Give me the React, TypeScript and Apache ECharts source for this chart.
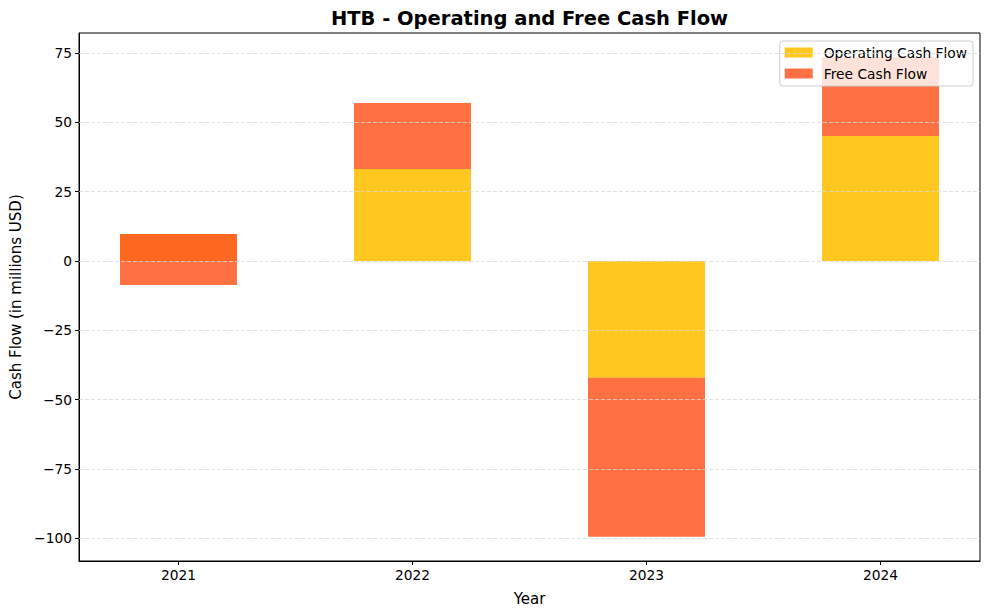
import { useEffect, useRef } from "react";
import * as echarts from "echarts";

const years = ["2021", "2022", "2023", "2024"];
const operatingCashFlow = [9.7, 33.2, -42.1, 45.1];
const freeCashFlow = [-18.4, 23.8, -57.4, 28.4];
const yTicks = [-100, -75, -50, -25, 0, 25, 50, 75];
const xTicks = [0, 1, 2, 3];

const FONT = "DejaVu Sans";

export default function App() {
  const chartDivRef = useRef<HTMLDivElement>(null);

  useEffect(() => {
    document.body.style.margin = "0";
    const el = chartDivRef.current;
    if (!el) return;
    const chart = echarts.init(el, null, { renderer: "svg" });

    const minus = (v: number) => String(v).replace("-", "\u2212");

    // value first, position second: so the stack runs on the y values
    const toPoints = (vals: number[]) => vals.map((v, i) => [v, i]);

    const option: echarts.EChartsOption = {
      animation: false,
      backgroundColor: "#fff",
      textStyle: { fontFamily: FONT },
      grid: {
        left: 79,
        right: 9,
        top: 33,
        bottom: 54,
        outerBoundsMode: "none",
        containLabel: false,
        show: true,
        borderColor: "#000",
        borderWidth: 1,
        backgroundColor: "transparent",
      } as any,
      graphic: [
        {
          type: "text",
          x: 529.5,
          y: 18,
          z: 10,
          style: {
            text: "HTB - Operating and Free Cash Flow",
            fontFamily: FONT,
            fontSize: 19.5,
            fontWeight: "bold",
            fill: "#000",
            textAlign: "center",
            textVerticalAlign: "middle",
          },
        },
      ],
      legend: {
        orient: "vertical",
        right: 16,
        top: 41,
        itemWidth: 28,
        itemHeight: 10,
        itemGap: 6,
        padding: [4, 6, 5, 5],
        backgroundColor: "rgba(255,255,255,0.8)",
        borderColor: "#cccccc",
        borderWidth: 1,
        borderRadius: 3,
        icon: "rect",
        textStyle: {
          fontFamily: FONT,
          fontSize: 13.8,
          color: "#000",
          lineHeight: 15,
          padding: [0, 0, 0, 6],
        },
        data: ["Operating Cash Flow", "Free Cash Flow"],
      },
      xAxis: {
        type: "value",
        min: -0.425,
        max: 3.425,
        name: "Year",
        nameLocation: "middle",
        nameGap: 30,
        nameTextStyle: { fontFamily: FONT, fontSize: 15, color: "#000" },
        axisLine: { show: true, onZero: false, lineStyle: { color: "#000", width: 1 } },
        axisTick: {
          show: true,
          length: 4,
          customValues: xTicks,
          lineStyle: { color: "#000", width: 1 },
        },
        axisLabel: {
          customValues: xTicks,
          formatter: (v: number) => years[Math.round(v)] ?? "",
          fontFamily: FONT,
          fontSize: 13.8,
          color: "#000",
          margin: 7,
        },
        splitLine: { show: false },
      },
      yAxis: {
        type: "value",
        min: -108.2,
        max: 82.2,
        name: "Cash Flow (in millions USD)",
        nameLocation: "middle",
        nameGap: 55,
        nameRotate: 90,
        nameTextStyle: { fontFamily: FONT, fontSize: 15, color: "#000" },
        axisLine: { show: true, onZero: false, lineStyle: { color: "#000", width: 1 } },
        axisTick: {
          show: true,
          length: 4,
          customValues: yTicks,
          lineStyle: { color: "#000", width: 1 },
        },
        axisLabel: {
          customValues: yTicks,
          formatter: (v: number) => minus(v),
          fontFamily: FONT,
          fontSize: 13.8,
          color: "#000",
          margin: 7,
        },
        splitLine: { show: false },
      },
      series: [
        {
          name: "Operating Cash Flow",
          type: "bar",
          stack: "cf",
          stackStrategy: "all",
          barWidth: 117,
          encode: { x: 1, y: 0 },
          data: toPoints(operatingCashFlow),
          itemStyle: { color: "#FFC107", opacity: 0.9 },
        },
        {
          name: "Free Cash Flow",
          type: "bar",
          stack: "cf",
          stackStrategy: "all",
          barWidth: 117,
          encode: { x: 1, y: 0 },
          data: toPoints(freeCashFlow),
          itemStyle: { color: "#FF5722", opacity: 0.85 },
        },
        {
          name: "grid",
          type: "line",
          z: 3,
          data: [],
          silent: true,
          markLine: {
            silent: true,
            symbol: "none",
            label: { show: false },
            lineStyle: { color: "#d9d9d9", width: 0.8, type: [4, 2] },
            data: yTicks.map((t) => ({ yAxis: t })),
          },
        },
      ],
    };

    chart.setOption(option);
    return () => chart.dispose();
  }, []);

  return <div ref={chartDivRef} style={{ width: 989, height: 615 }} />;
}
